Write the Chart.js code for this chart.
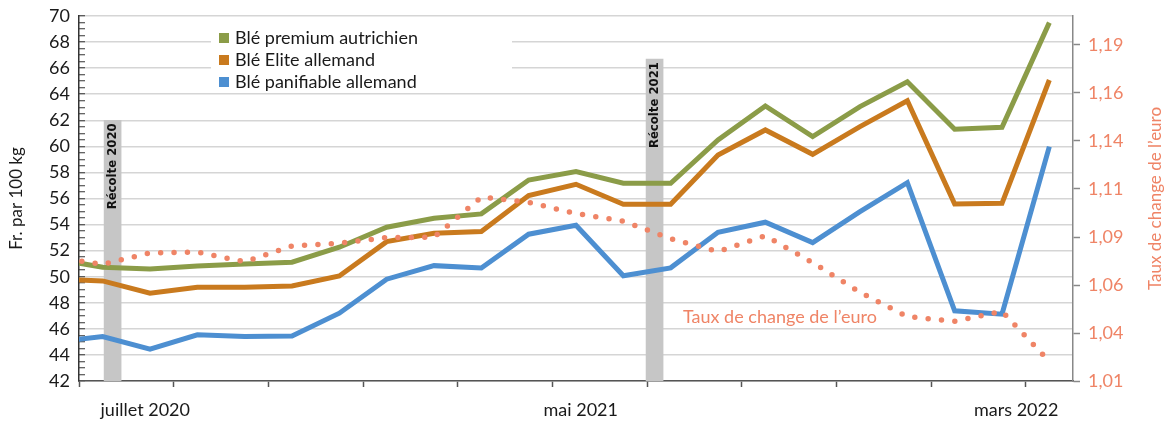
<!DOCTYPE html>
<html>
<head>
<meta charset="utf-8">
<script src="https://cdn.jsdelivr.net/npm/chart.js@4.4.1/dist/chart.umd.min.js"></script>
<style>
  html, body { margin: 0; padding: 0; background: #fff; }
  #wrap { width: 1167px; height: 421px; position: relative; }
</style>
</head>
<body>
<div id="wrap"><canvas id="lineChart"></canvas></div>
<script>
// periods (one step ~ half a tick interval), -1 is the partly visible first point
var periods = [-1, 0, 1, 2, 3, 4, 5, 6, 7, 8, 9, 10, 11, 12, 13, 14, 15, 16, 17, 18, 19, 20];

var premiumAT = [51.36, 50.72, 50.60, 50.83, 50.98, 51.11, 52.26, 53.80, 54.49, 54.82, 57.42, 58.06, 57.17, 57.17, 60.49, 63.10, 60.75, 63.05, 64.96, 61.31, 61.46, 69.49];
var eliteDE   = [49.82, 49.68, 48.73, 49.19, 49.19, 49.29, 50.06, 52.69, 53.33, 53.46, 56.22, 57.09, 55.56, 55.56, 59.34, 61.26, 59.39, 61.51, 63.50, 55.58, 55.63, 65.09];
var panifDE   = [44.99, 45.41, 44.44, 45.54, 45.41, 45.46, 47.20, 49.81, 50.85, 50.67, 53.26, 53.95, 50.07, 50.68, 53.41, 54.18, 52.62, 55.00, 57.22, 47.38, 47.13, 59.98];
var euroRate  = [1.0763, 1.0725, 1.0786, 1.0790, 1.0739, 1.0823, 1.0838, 1.0868, 1.0870, 1.1085, 1.1057, 1.0997, 1.0956, 1.0862, 1.0793, 1.0878, 1.0734, 1.0575, 1.0445, 1.0420, 1.0473, 1.0205];

var seriesNames = ['Blé premium autrichien', 'Blé Elite allemand', 'Blé panifiable allemand'];
var euroName = 'Taux de change de l\u2019euro';

// harvest markers
var harvestNames = ['Récolte 2020', 'Récolte 2021'];
var harvestPos = [0.21, 11.66];
var harvestTop = [62, 66.7];

// tick labels
var xLabels = ['juillet 2020', 'mai 2021', 'mars 2022'];
var xLabelPos = [0.9, 10.1, 19.3];
var leftTicks = [42, 44, 46, 48, 50, 52, 54, 56, 58, 60, 62, 64, 66, 68, 70];
var rightTickVals = [1.01, 1.0357, 1.0614, 1.0871, 1.1129, 1.1386, 1.1643, 1.19];
var rightTickLabels = ['1,01', '1,04', '1,06', '1,09', '1,11', '1,14', '1,16', '1,19'];

var FONT = 'Lato';
var GREEN = '#8b9c48', ORANGE = '#c97a1e', BLUE = '#4d8fd1', SALMON = '#ef8466';
Chart.defaults.font.family = FONT;

function pts(vals) {
  return periods.map(function (p, k) { return { x: p, y: vals[k] }; });
}
function noPad(s) {
  s.paddingTop = 0; s.paddingBottom = 0; s.paddingLeft = 0; s.paddingRight = 0;
}

// white legend box in the upper left of the plot
var legendBox = {
  id: 'legendBox',
  beforeDatasetsDraw: function (chart) {
    var c = chart.ctx, a = chart.chartArea;
    var colors = [GREEN, ORANGE, BLUE];
    c.save();
    c.fillStyle = '#fff';
    c.fillRect(a.left + 132, a.top + 3, 301, 73);
    c.font = '18px ' + FONT;
    c.textBaseline = 'middle';
    for (var k = 0; k < seriesNames.length; k++) {
      var y = a.top + 22 + k * 22;
      c.fillStyle = colors[k];
      c.fillRect(a.left + 140, y - 5, 10, 10);
      c.fillStyle = '#1a1a1a';
      c.fillText(seriesNames[k], a.left + 156, y);
    }
    c.restore();
  }
};

// labels inside harvest bars, right title, euro annotation
var extraText = {
  id: 'extraText',
  afterDraw: function (chart) {
    var c = chart.ctx, a = chart.chartArea;
    var meta = chart.getDatasetMeta(0);
    c.save();
    c.font = 'bold 13px "DejaVu Sans Condensed", "Liberation Sans Narrow", ' + FONT;
    c.fillStyle = '#111';
    c.textAlign = 'right';
    c.textBaseline = 'middle';
    meta.data.forEach(function (bar, k) {
      c.save();
      c.translate(bar.x, bar.y + 3);
      c.rotate(-Math.PI / 2);
      c.fillText(harvestNames[k], 0, 0);
      c.restore();
    });

    var y1 = chart.scales.y1, x = chart.scales.x;
    c.font = '18px ' + FONT;
    c.fillStyle = SALMON;
    c.textAlign = 'left';
    c.textBaseline = 'alphabetic';
    c.fillText(euroName, x.getPixelForValue(12.26), y1.getPixelForValue(1.0411));

    c.save();
    c.translate(1156, (a.top + a.bottom) / 2);
    c.rotate(-Math.PI / 2);
    c.textAlign = 'center';
    c.textBaseline = 'middle';
    c.font = '17px ' + FONT;
    c.fillText(euroName, 0, 0);
    c.restore();
    c.restore();
  }
};

var ctx = document.getElementById('lineChart').getContext('2d');
var myChart = new Chart(ctx, {
  type: 'line',
  data: {
    datasets: [
      {
        type: 'bar',
        label: 'Récolte',
        data: harvestPos.map(function (p, k) { return { x: p, y: [42, harvestTop[k]] }; }),
        backgroundColor: '#c6c6c6',
        barThickness: 17,
        order: 10
      },
      {
        label: seriesNames[0], data: pts(premiumAT), borderColor: GREEN,
        borderWidth: 5, pointRadius: 0, tension: 0, borderJoinStyle: 'miter', clip: 0, order: 3
      },
      {
        label: seriesNames[1], data: pts(eliteDE), borderColor: ORANGE,
        borderWidth: 5, pointRadius: 0, tension: 0, borderJoinStyle: 'miter', clip: 0, order: 2
      },
      {
        label: seriesNames[2], data: pts(panifDE), borderColor: BLUE,
        borderWidth: 5, pointRadius: 0, tension: 0, borderJoinStyle: 'miter', clip: 0, order: 1
      },
      {
        label: euroName, data: pts(euroRate), yAxisID: 'y1', borderColor: SALMON,
        borderWidth: 5.5, borderDash: [0, 13.4], borderCapStyle: 'round',
        pointRadius: 0, tension: 0, clip: 0, order: 0
      }
    ]
  },
  options: {
    responsive: true,
    maintainAspectRatio: false,
    animation: false,
    layout: { padding: { top: 16, left: 0, right: 0, bottom: 0 } },
    plugins: { legend: { display: false }, tooltip: { enabled: false } },
    scales: {
      x: {
        type: 'linear', min: -0.5, max: 20.5, offset: false,
        afterBuildTicks: function (s) {
          var v = [];
          for (var b = -0.5; b < 20; b += 2) v.push(b);
          v = v.concat(xLabelPos).sort(function (p, q) { return p - q; });
          s.ticks = v.map(function (t) { return { value: t }; });
        },
        ticks: {
          autoSkip: false, maxRotation: 0, minRotation: 0, padding: 12,
          color: '#1a1a1a', font: { size: 18 },
          callback: function (v) { var k = xLabelPos.indexOf(v); return k >= 0 ? xLabels[k] : ''; }
        },
        grid: {
          drawOnChartArea: false, tickLength: 6, tickWidth: 1.5, offset: false,
          tickColor: function (c) { return (c.tick && xLabelPos.indexOf(c.tick.value) >= 0) ? 'rgba(0,0,0,0)' : '#555'; }
        },
        border: { color: '#555', width: 1.5 },
        afterFit: function (s) { s.height = 40; noPad(s); }
      },
      y: {
        position: 'left', min: 42, max: 70,
        afterBuildTicks: function (s) {
          var t = [];
          for (var v = 42; v <= 70; v += 0.5) t.push({ value: v });
          s.ticks = t;
        },
        ticks: {
          autoSkip: false, padding: 15, color: '#1a1a1a', font: { size: 18 },
          callback: function (v) { return leftTicks.indexOf(v) >= 0 ? String(v) : ''; }
        },
        grid: {
          lineWidth: 1.5, tickLength: -6, tickColor: '#333', tickWidth: 1,
          color: function (c) { return (c.tick && leftTicks.indexOf(c.tick.value) >= 0) ? '#d5d5d5' : 'rgba(0,0,0,0)'; }
        },
        border: { color: '#333', width: 1.5 },
        title: { display: true, text: 'Fr. par 100 kg', color: '#1a1a1a', font: { size: 17 }, padding: { top: 6, bottom: 0 } },
        afterFit: function (s) { s.width = 79; noPad(s); }
      },
      y1: {
        position: 'right', min: 1.01, max: 1.2055,
        afterBuildTicks: function (s) {
          s.ticks = rightTickVals.map(function (v) { return { value: v }; });
        },
        ticks: {
          autoSkip: false, padding: 8, color: SALMON, font: { size: 18 },
          callback: function (v, i) { return rightTickLabels[i]; }
        },
        grid: { drawOnChartArea: false, tickLength: 7, tickColor: '#888', tickWidth: 1.5 },
        border: { color: '#888', width: 1.5 },
        afterFit: function (s) { s.width = 94; noPad(s); }
      }
    }
  },
  plugins: [legendBox, extraText]
});
</script>
</body>
</html>
